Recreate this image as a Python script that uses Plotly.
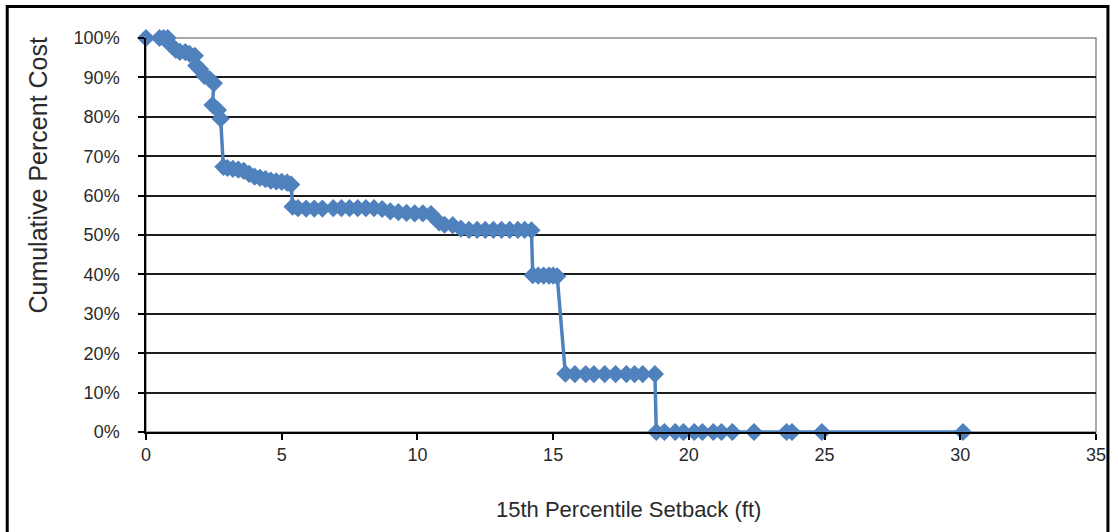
import plotly.graph_objects as go

# Setback (ft) and cumulative percent cost (%)
setback = [0.0, 0.5, 0.65, 0.8, 0.95, 1.1, 1.25, 1.45, 1.6, 1.8, 1.85, 2.0, 2.15, 2.35, 2.5,
           2.45, 2.65, 2.75,
           2.85, 3.0, 3.2, 3.4, 3.6, 3.8, 4.0, 4.2, 4.4, 4.6, 4.8, 5.0, 5.2, 5.35,
           5.4, 5.6, 5.9, 6.2, 6.5, 6.9, 7.2, 7.5, 7.8, 8.1, 8.4, 8.7, 9.0, 9.3, 9.6, 9.9, 10.2, 10.5,
           10.8, 11.0, 11.3, 11.6, 11.9, 12.2, 12.5, 12.8, 13.1, 13.4, 13.7, 13.95, 14.2,
           14.25, 14.45, 14.65, 14.85, 15.0, 15.15,
           15.45, 15.8, 16.2, 16.5, 16.9, 17.3, 17.7, 18.0, 18.3, 18.75,
           18.8, 19.1, 19.5, 19.8, 20.2, 20.5, 20.9, 21.2, 21.6, 22.4, 23.6, 23.8, 24.9, 30.1]
cum_cost = [100.0, 100.0, 100.0, 100.0, 98.0, 97.0, 96.5, 96.4, 96.0, 95.5, 93.0, 92.0, 90.4, 89.5, 88.5,
            83.0, 81.7, 79.5,
            67.3, 67.0, 66.8, 66.6, 66.3, 65.5, 64.8, 64.5, 64.2, 63.8, 63.6, 63.5, 63.3, 62.8,
            57.2, 56.8, 56.7, 56.7, 56.7, 56.8, 56.8, 56.8, 56.8, 56.8, 56.8, 56.6, 56.0, 55.8, 55.6, 55.5, 55.5, 55.3,
            53.2, 52.6, 52.5, 51.6, 51.3, 51.3, 51.3, 51.3, 51.3, 51.3, 51.3, 51.3, 51.2,
            39.8, 39.7, 39.7, 39.7, 39.7, 39.5,
            14.8, 14.7, 14.7, 14.7, 14.7, 14.7, 14.7, 14.7, 14.7, 14.7,
            0.0, 0.0, 0.0, 0.0, 0.0, 0.0, 0.0, 0.0, 0.0, 0.0, 0.0, 0.0, 0.0, 0.0]

x_ticks = [0, 5, 10, 15, 20, 25, 30, 35]
y_ticks = [0, 10, 20, 30, 40, 50, 60, 70, 80, 90, 100]
y_tick_labels = [f"{v}%" for v in y_ticks]
x_title = "15th Percentile Setback (ft)"
y_title = "Cumulative Percent Cost"

W, H = 1118, 532
ml, mr, mt, mb = 146, 17, 38, 100
pw, ph = W - ml - mr, H - mt - mb


def px_x(p):
    return (p - ml) / pw


def px_y(p):
    return (H - mb - p) / ph


fig = go.Figure()
fig.add_trace(go.Scatter(
    x=setback, y=cum_cost, mode="lines+markers",
    line=dict(color="#4F81BD", width=3.5),
    marker=dict(symbol="diamond", size=14, color="#4F81BD"),
    showlegend=False, cliponaxis=False,
))

fam = "Liberation Sans, Arial, sans-serif"
txt_color = "#2a2a2a"
tick_font = dict(family=fam, size=18, color=txt_color)

fig.update_layout(
    width=W, height=H,
    margin=dict(l=ml, r=mr, t=mt, b=mb),
    paper_bgcolor="white", plot_bgcolor="white",
    font=tick_font,
    xaxis=dict(
        range=[0, 35], tickvals=x_ticks, ticktext=[str(v) for v in x_ticks],
        showgrid=False, zeroline=False, showline=True, linecolor="black", linewidth=1.5,
        ticks="outside", ticklen=6, tickcolor="black", tickwidth=1.5, ticklabelstandoff=0,
        tickfont=tick_font,
    ),
    yaxis=dict(
        range=[0, 100], tickvals=y_ticks, ticktext=y_tick_labels,
        showgrid=True, gridcolor="#1e1e1e", gridwidth=1.5, zeroline=False,
        showline=True, linecolor="black", linewidth=1.5,
        ticks="outside", ticklen=6, tickcolor="black", tickwidth=1.5, ticklabelstandoff=15,
        tickfont=tick_font,
    ),
    annotations=[
        dict(text=x_title, xref="paper", yref="paper", x=px_x(631), y=px_y(509),
             xanchor="center", yanchor="middle", showarrow=False,
             font=dict(family=fam, size=22, color=txt_color)),
        dict(text=y_title, xref="paper", yref="paper", x=px_x(37), y=px_y(175),
             xanchor="center", yanchor="middle", showarrow=False, textangle=-90,
             font=dict(family=fam, size=25, color=txt_color)),
    ],
    shapes=[
        dict(type="rect", xref="paper", yref="paper", x0=0, x1=1, y0=0, y1=1,
             line=dict(color="#8c8c8c", width=1.5), layer="below"),
        dict(type="rect", xref="paper", yref="paper",
             x0=px_x(6.5), x1=px_x(1113), y0=px_y(545), y1=px_y(6.5),
             line=dict(color="black", width=3)),
    ],
)

fig.write_html("out.html", config={"displayModeBar": False},
               post_script="document.body.style.margin='0px';")
